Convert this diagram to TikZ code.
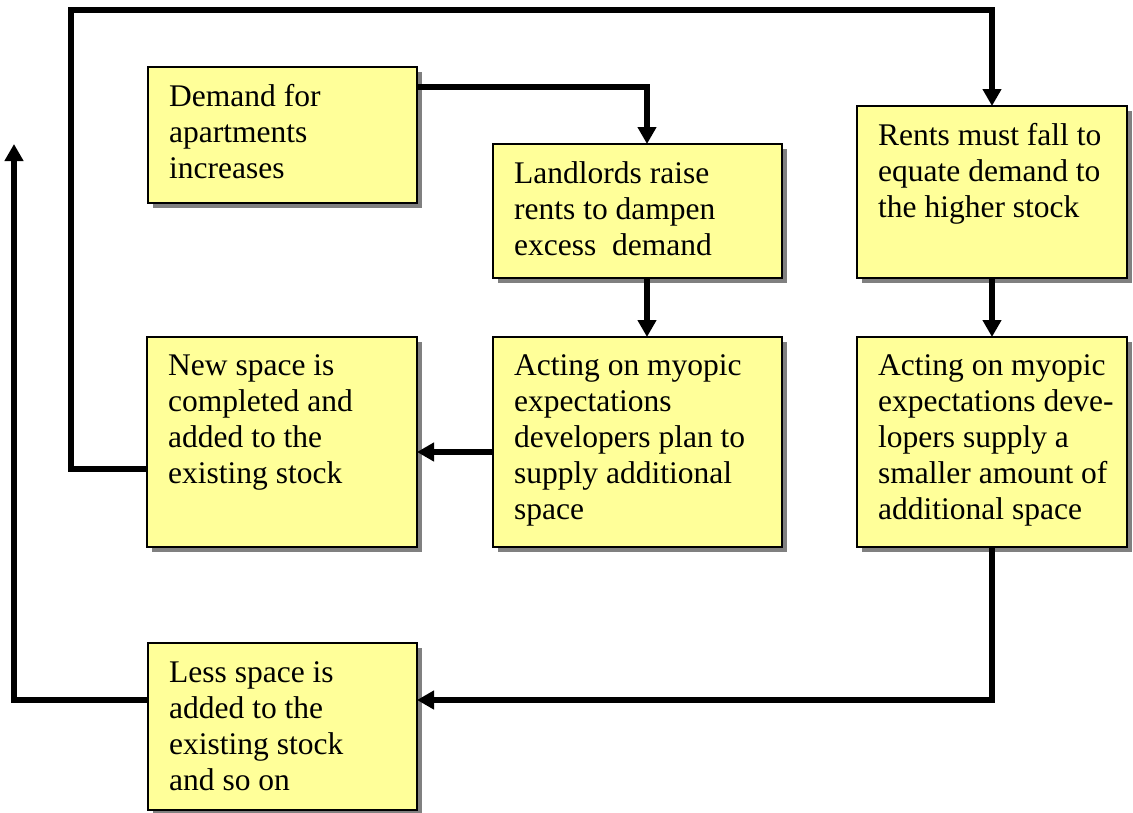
\documentclass[tikz,border=0pt]{standalone}
\usepackage{fontspec}
\setmainfont{Liberation Serif}
\usetikzlibrary{arrows.meta,shadows}
\definecolor{boxyellow}{HTML}{FFFF99}
\definecolor{shadowgray}{HTML}{808080}
\tikzset{
  box/.style={draw=black, line width=1.2pt, fill=boxyellow, inner sep=0pt, outer sep=0pt,
    drop shadow={shadow xshift=5pt, shadow yshift=-5pt, fill=shadowgray, opacity=1}},
  boxtext/.style={anchor=north west, inner sep=0pt, align=left,
    font=\rmfamily\fontsize{31.5}{36}\selectfont},
  conn/.style={line width=5.5pt, line join=miter, -{Triangle[width=18pt,length=17pt]}}
}
\begin{document}
\begin{tikzpicture}[x=1pt,y=-1pt]
\useasboundingbox (0,0) rectangle (1133,812);
% boxes
\node[box, minimum width=269pt, minimum height=136pt] (A) at (282.5,135) {};
\node[box, minimum width=289pt, minimum height=134pt] (B) at (637.5,211) {};
\node[box, minimum width=270pt, minimum height=172pt] (C) at (992,192) {};
\node[box, minimum width=270pt, minimum height=210pt] (D) at (282,442) {};
\node[box, minimum width=289pt, minimum height=210pt] (E) at (637.5,442) {};
\node[box, minimum width=270pt, minimum height=210pt] (F) at (992,442) {};
\node[box, minimum width=269pt, minimum height=167pt] (G) at (282.5,726.5) {};
% texts
\node[boxtext] (At) at ([xshift=21pt,yshift=-14.3pt]A.north west) {\strut Demand for\\apartments\\increases};
\node[boxtext] (Bt) at ([xshift=21pt,yshift=-14.3pt]B.north west) {\strut Landlords raise\\rents to dampen\\excess\ \ demand};
\node[boxtext] (Ct) at ([xshift=21pt,yshift=-14.3pt]C.north west) {\strut Rents must fall to\\equate demand to\\the higher stock};
\node[boxtext] (Dt) at ([xshift=21pt,yshift=-13.3pt]D.north west) {\strut New space is\\completed and\\added to the\\existing stock};
\node[boxtext] (Et) at ([xshift=21pt,yshift=-13.3pt]E.north west) {\strut Acting on myopic\\expectations\\developers plan to\\supply additional\\space};
\node[boxtext] (Ft) at ([xshift=21pt,yshift=-13.3pt]F.north west) {\strut Acting on myopic\\expectations deve-\\lopers supply a\\smaller amount of\\additional space};
\node[boxtext] (Gt) at ([xshift=21pt,yshift=-14.3pt]G.north west) {\strut Less space is\\added to the\\existing stock\\and so on};
% free corner points
\coordinate (tl) at (71,10);
\coordinate (lt) at (14,144);
% connectors
\draw[conn] ([yshift=-20pt]A.north east) -| ([xshift=9.5pt]B.north);
\draw[conn] ([xshift=9.5pt]B.south) -- ([xshift=9.5pt]E.north);
\draw[conn] ([yshift=-10pt]E.west) -- ([yshift=-10pt]D.east);
\draw[conn] ([yshift=-27pt]D.west) -| (tl) -| (C.north);
\draw[conn] (C.south) -- (F.north);
\draw[conn] (F.south) |- ([yshift=26.5pt]G.east);
\draw[conn] ([yshift=26.5pt]G.west) -| (lt);
\end{tikzpicture}
\end{document}
